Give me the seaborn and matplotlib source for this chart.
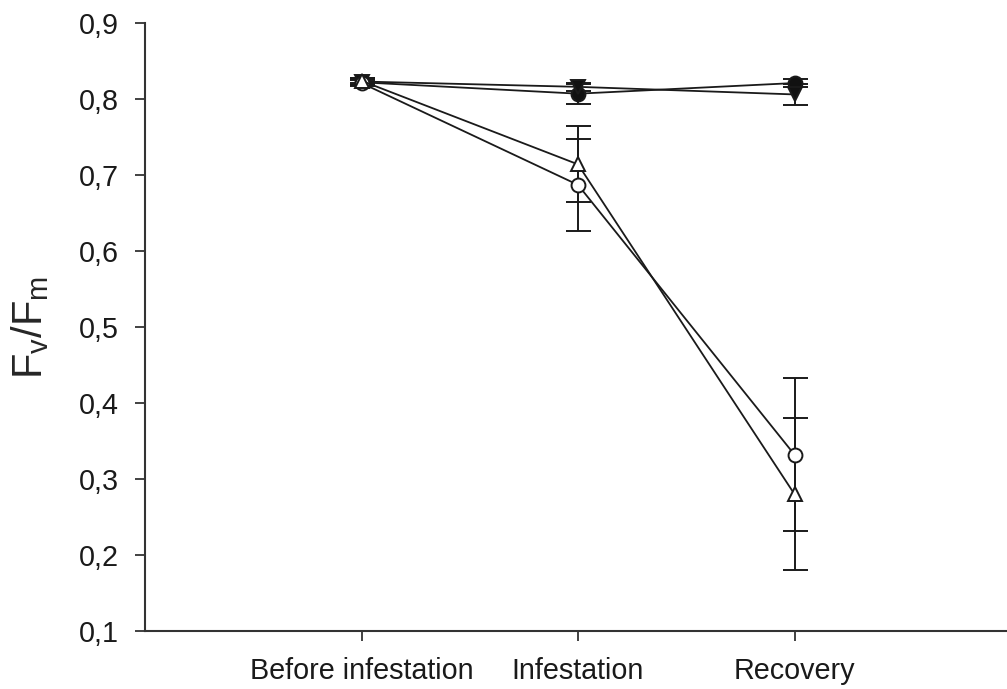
import matplotlib
matplotlib.use("Agg")
import matplotlib.pyplot as plt
import seaborn as sns
import pandas as pd
import numpy as np
from matplotlib.ticker import FixedLocator, FixedFormatter

sns.set_style("ticks")
plt.rcParams['font.family'] = ['Liberation Sans', 'DejaVu Sans']
plt.rcParams['mathtext.fontset'] = 'custom'
plt.rcParams['mathtext.rm'] = 'Liberation Sans'
plt.rcParams['mathtext.it'] = 'Liberation Sans'

# ---- data ----
categories = ["Before infestation", "Infestation", "Recovery"]
filled_circle = [0.822, 0.807, 0.821]
filled_circle_se = [0.004, 0.013, 0.005]
filled_tri_down = [0.823, 0.816, 0.806]
filled_tri_down_se = [0.004, 0.005, 0.014]
open_circle = [0.821, 0.687, 0.332]
open_circle_se = [0.004, 0.061, 0.101]
open_tri_up = [0.824, 0.714, 0.280]
open_tri_up_se = [0.003, 0.050, 0.100]
y_ticks = [0.1, 0.2, 0.3, 0.4, 0.5, 0.6, 0.7, 0.8, 0.9]
y_tick_labels = ["0,1", "0,2", "0,3", "0,4", "0,5", "0,6", "0,7", "0,8", "0,9"]

pos = [1, 2, 3]
series = [
    ("filled_circle", filled_circle, filled_circle_se, "o", "#111111"),
    ("filled_tri_down", filled_tri_down, filled_tri_down_se, "v", "#111111"),
    ("open_circle", open_circle, open_circle_se, "o", "white"),
    ("open_tri_up", open_tri_up, open_tri_up_se, "^", "white"),
]

fig = plt.figure(figsize=(10.07, 6.89), dpi=100)
ax = fig.add_axes([145 / 1007, 1 - 631 / 689, 1 - 145 / 1007, (631 - 23) / 689])

line_color = "#1a1a1a"
for i, (name, vals, se, mk, face) in enumerate(series):
    df = pd.DataFrame({"x": pos, "y": vals})
    ax.errorbar(pos, vals, yerr=se, fmt="none", ecolor=line_color,
                elinewidth=1.4, capsize=9, capthick=1.4, zorder=2 + i * 0.1)
    sns.lineplot(data=df, x="x", y="y", ax=ax, color=line_color, lw=1.3,
                 marker=mk, markersize=10, markerfacecolor=face,
                 markeredgecolor=line_color, markeredgewidth=1.4,
                 zorder=3 + i, legend=False)

ax.set_xlim(0, 862 / 216.5)
ax.set_ylim(0.1, 0.9)
ax.xaxis.set_major_locator(FixedLocator(pos))
ax.xaxis.set_major_formatter(FixedFormatter(categories))
ax.yaxis.set_major_locator(FixedLocator(y_ticks))
ax.yaxis.set_major_formatter(FixedFormatter(y_tick_labels))
ax.set_xlabel("")
ax.set_ylabel(r"$\mathregular{F_v/F_m}$", fontsize=30, labelpad=20)

for side in ["top", "right"]:
    ax.spines[side].set_visible(False)
for side in ["left", "bottom"]:
    ax.spines[side].set_color("#333333")
    ax.spines[side].set_linewidth(1.5)
ax.tick_params(axis="both", direction="out", length=7, width=1.3,
               color="#333333", labelsize=20.7, labelcolor="#1a1a1a")
ax.tick_params(axis="y", pad=12)
ax.tick_params(axis="x", pad=12)

fig.savefig("out.png", dpi=100)
